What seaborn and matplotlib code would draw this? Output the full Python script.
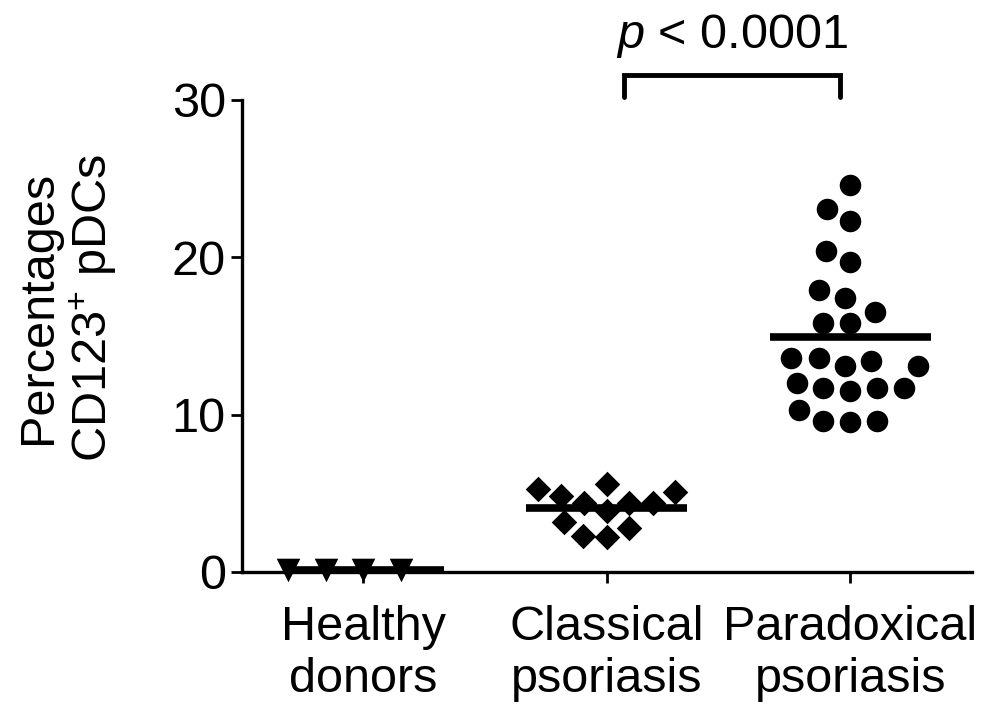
import matplotlib
matplotlib.use("Agg")
import matplotlib.pyplot as plt
import numpy as np
import pandas as pd
import seaborn as sns

# values (% CD123+ pDCs)
groups = ["Healthy\ndonors", "Classical\npsoriasis", "Paradoxical\npsoriasis"]
healthy = [0.1, 0.1, 0.1, 0.1]
classical = [5.6, 5.1, 3.9, 4.4, 2.8, 2.2, 2.3, 3.2, 4.4, 4.8, 4.4, 5.3]
paradoxical = [24.6, 23.1, 22.3, 20.4, 19.7, 17.9, 17.4, 16.5, 15.8, 15.8,
               13.4, 13.1, 13.6, 13.6, 13.1, 11.5, 11.7, 11.7, 12.0, 11.7,
               10.3, 9.6, 9.5, 9.6]
yticks = [0, 10, 20, 30]
p_text = "$p$ < 0.0001"

df = pd.DataFrame({
    "group": [groups[0]] * len(healthy) + [groups[1]] * len(classical)
             + [groups[2]] * len(paradoxical),
    "pct": healthy + classical + paradoxical,
})

sns.set_style("ticks")
plt.rcParams["font.family"] = ["Liberation Sans", "DejaVu Sans"]
plt.rcParams["mathtext.fontset"] = "custom"
plt.rcParams["mathtext.rm"] = "Liberation Sans"
plt.rcParams["mathtext.it"] = "Liberation Sans:italic"
for k in ["text.color", "axes.labelcolor", "xtick.color", "ytick.color",
          "axes.edgecolor"]:
    plt.rcParams[k] = "black"
fs = 35

fig = plt.figure(figsize=(10.03, 7.14), dpi=100)
ax = fig.add_axes([0.241, 0.199, 0.728, 0.661])

# marker, size, invisible edge width (only widens the swarm spacing)
styles = {groups[0]: ("v", 17, 9), groups[1]: ("D", 13, 3.5), groups[2]: ("o", 15.5, 3)}
for g in groups:
    marker, size, pad = styles[g]
    sns.swarmplot(data=df[df.group == g], x="group", y="pct", order=groups,
                  marker=marker, size=size, color="black",
                  edgecolor=(1, 1, 1, 0), linewidth=pad, ax=ax, clip_on=False)

means = df.groupby("group", sort=False)["pct"].mean()
for i, g in enumerate(groups):
    ax.hlines(means[g], i - 0.33, i + 0.33, color="black", lw=5.5, zorder=5,
              clip_on=False)

ax.set_xlim(-0.5, 2.5)
ax.set_ylim(0, 30)
ax.set_yticks(yticks)
ax.set_xlabel("")
ax.set_ylabel("Percentages\nCD123$^{+}$ pDCs", fontsize=fs, linespacing=1.15)
ax.yaxis.set_label_coords(-0.168, 0.56)
ax.tick_params(labelsize=fs, width=2, length=8, color="black", labelcolor="black")
ax.tick_params(axis="x", pad=16)
sns.despine(ax=ax)
for s in ["left", "bottom"]:
    ax.spines[s].set_linewidth(2.4)
    ax.spines[s].set_color("black")

# significance bracket
x1, x2, yb, yt = 1.07, 1.96, 30.2, 31.6
ax.plot([x1, x1, x2, x2], [yb, yt, yt, yb], color="black", lw=3.5,
        clip_on=False, solid_joinstyle="miter")
ax.text((x1 + x2) / 2, 33.3, p_text, ha="center", va="baseline", fontsize=fs)

fig.savefig("out.png", dpi=100)
